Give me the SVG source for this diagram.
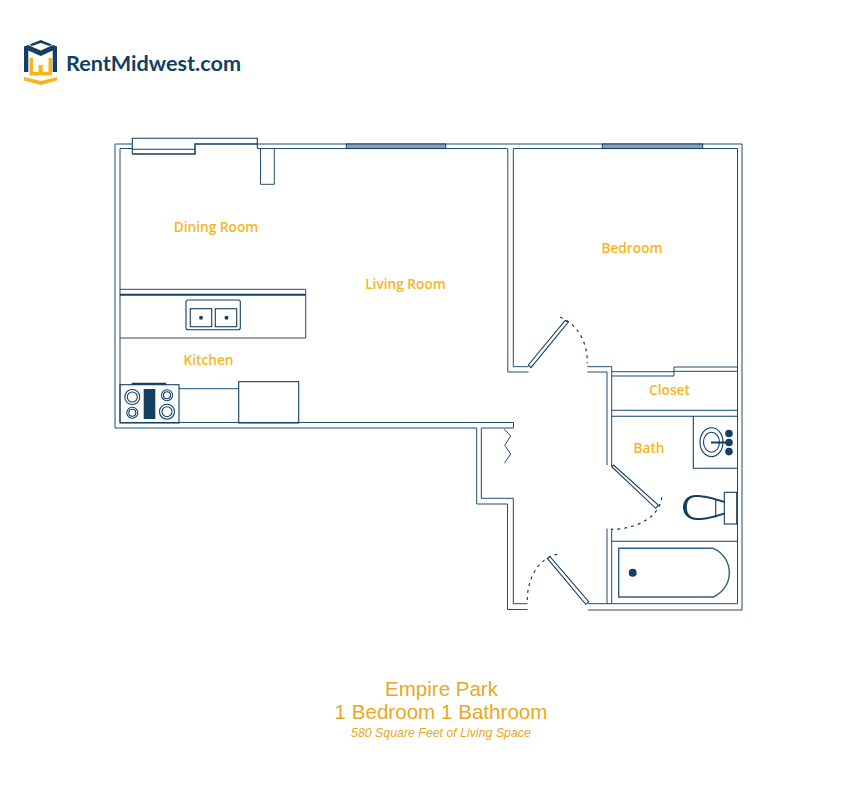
<svg xmlns="http://www.w3.org/2000/svg" width="864" height="792" viewBox="0 0 864 792">
<style>
.w{fill:none;stroke:#1f4d70;stroke-width:1}
.d{fill:none;stroke:#123f62;stroke-width:1.1}
.dash{fill:none;stroke:#123f62;stroke-width:1.2;stroke-dasharray:3 4}
.win{fill:#86a0b5;stroke:#123f62;stroke-width:1}
.leaf{fill:#fff;stroke:#123f62;stroke-width:1.1}
.l{font-family:"Open Sans","Noto Sans",sans-serif;font-weight:600;font-size:13.7px;fill:#fbb41c;text-anchor:middle}
.t{font-family:"Liberation Sans",Arial,sans-serif;fill:#e9a824;text-anchor:middle}
.n{fill:#123f62}
.thick{stroke-width:2}
</style>
<rect width="864" height="792" fill="#fff"/>
<g id="logo">
<polygon class="n" points="32,43.5 40.7,40 49.5,43.5 52,44.8 49.5,46 40.7,43 32,46 29.5,44.8"/>
<polygon class="n" points="24,46.5 28,45 40.7,50.5 53,45 57,46.5 57,72 52.7,72 52.7,50.5 40.7,56 28.3,50.5 28.3,72 24,72"/>
<polygon fill="#fbb41c" points="29.5,58 33,58 33,72 38.5,72 38.5,65 42.7,65 42.7,72 48.5,72 48.5,58 52,58 52,75.5 29.5,75.5"/>
<polygon fill="#fbb41c" points="24,77 40.7,81 57,77 57,80.5 40.7,85 24,80.5"/>
<text x="66" y="71" font-family="Lato,'Open Sans',sans-serif" font-weight="700" font-size="21.5" fill="#123f62" textLength="175" lengthAdjust="spacingAndGlyphs">RentMidwest.com</text>
</g>
<g id="connectors">
<path id="outer-shell" class="w" d="M132.3,144H115V428H476.7V504H507.5V609.5H527.5"/>
<path id="inner-shell" class="w" d="M132.3,148.5H120V422.5H513.5V428H481.3V498.3H513.3V603.7H527.5"/>
<path id="top-wall-outer" class="w" d="M257.3,144H742V610H588"/>
<path id="top-wall-inner" class="w" d="M257.3,148.5H507.5M513.3,148.5H737.5V603.7H588"/>
<path id="bedroom-wall" class="w" d="M507.8,148.5V372H528.5M513.3,148.5V366.7H528.5"/>
<path id="hall-right" class="w" d="M587.3,366.7H611.7V466M587.3,372H607V465M607,528.5V603.7M611.7,528.5V603.7"/>
<path id="closet" class="w" d="M611.7,371.7H674V367H737.5M611.7,376H674V371.3H737.5M611.7,410.3H737.5"/>
<path class="d" d="M611.7,416.3H737.5M611.7,541.3H737.5"/>
<path id="zigzag" class="w" d="M504.3,429.3L510.7,436L504.7,445.3L510.7,454L504.3,463.3"/>
<path class="dash" d="M560,317.3A38,46 0 0 1 587.3,363.3"/>
<path class="dash" d="M661.7,497.3A50,34 0 0 1 611.7,529.3"/>
<path class="dash" d="M557.3,554.3A34,46 0 0 0 527.3,601.7"/>
</g>
<g id="windows">
<path class="d" d="M132.3,154V138.3H257.3V148.5"/>
<path class="d" d="M132.3,149.3H195"/>
<path class="d" style="stroke-width:1.5" d="M132.3,154H195V144H257.3"/>
<rect class="win" x="346.3" y="144" width="99.4" height="4.5"/>
<rect class="win" x="602.3" y="144" width="100.4" height="4.5"/>
<path id="pillar" class="w" d="M260.5,148.5V184.3H274.3V148.5"/>
</g>
<g id="doors">
<polygon class="leaf" points="528.3,365 565,320.7 568.3,322 531,367.7"/>
<polygon class="leaf" points="611.7,466.7 613.5,465 658.3,505 655.7,508.3"/>
<polygon class="leaf" points="547.3,558.3 550,556.7 588.7,601.7 585.7,604.3"/>
</g>
<g id="kitchen">
<path class="w" d="M120,289.3H305.7V338H120"/>
<path class="d thick" d="M120,294.7H305.7"/>
<rect class="d" x="186" y="300" width="54.3" height="29.7" rx="2"/>
<rect class="d" x="190.3" y="308.7" width="21.4" height="18"/>
<rect class="d" x="215.3" y="308.7" width="21.4" height="18"/>
<circle class="n" cx="201" cy="317.7" r="2"/>
<circle class="n" cx="226.5" cy="317.7" r="2"/>
<rect class="d" x="120" y="384.7" width="59" height="38.3"/>
<path class="d thick" d="M131.7,383.8H166"/>
<rect class="n" x="143.7" y="389" width="11.6" height="30"/>
<g class="d">
<circle cx="132.3" cy="397" r="7.5"/><circle cx="132.3" cy="397" r="5"/>
<circle cx="132.3" cy="412.7" r="5.5"/><circle cx="132.3" cy="412.7" r="3.5"/>
<circle cx="167" cy="395.3" r="5.5"/><circle cx="167" cy="395.3" r="3.5"/>
<circle cx="167" cy="411.7" r="7.5"/><circle cx="167" cy="411.7" r="5"/>
</g>
<path class="w" d="M179,388.7H238.7"/>
<rect class="d" x="238.7" y="381.7" width="60" height="41.3"/>
</g>
<g id="bath">
<path class="d" d="M693.3,416.3V468.3H737.5"/>
<ellipse class="d" cx="711.5" cy="442.2" rx="11.5" ry="14.5"/>
<ellipse class="d" cx="711.5" cy="442.2" rx="8" ry="10"/>
<path class="d thick" d="M711,442.5H729"/>
<circle class="n" cx="729" cy="433.5" r="3.8"/>
<circle class="n" cx="729" cy="442.5" r="3.8"/>
<circle class="n" cx="729" cy="451.6" r="3.8"/>
<path class="n" d="M724.3,501C712,497 704,495 696,495C687,495 683,501 683,507.5C683,514 688,520 697,520C706,520 714,518 724.3,514.5V512.5C714,516 706,518 697,518C691,518 686.8,514 686.8,507.5C686.8,501 690,497 696,497C704,497 712,499 724.3,503Z"/>
<rect class="d" x="724.3" y="492.3" width="12.4" height="31.7"/>
<path class="d" d="M715.7,499V517.5"/>
<path class="d" style="stroke:#2f5f80;stroke-width:1.4" d="M618.7,548.3H713.3A26.5,26.5 0 0 1 713.3,597H618.7Z"/>
<circle class="n" cx="632.7" cy="572.7" r="4"/>
</g>
<g id="labels">
<text class="l" x="216" y="232">Dining Room</text>
<text class="l" x="405.5" y="289">Living Room</text>
<text class="l" x="632" y="252.5">Bedroom</text>
<text class="l" x="208.5" y="365">Kitchen</text>
<text class="l" x="669.5" y="394.5">Closet</text>
<text class="l" x="649" y="453">Bath</text>
<text class="t" x="441.5" y="695.5" font-size="20.5">Empire Park</text>
<text class="t" x="441" y="718.5" font-size="20.6">1 Bedroom 1 Bathroom</text>
<text class="t" x="441" y="737" font-size="12.35" font-style="italic">580 Square Feet of Living Space</text>
</g>
</svg>
